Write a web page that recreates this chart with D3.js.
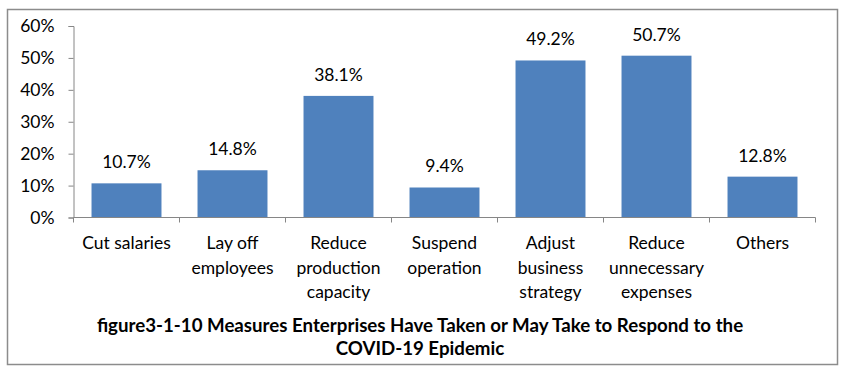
<!DOCTYPE html>
<html>
<head>
<meta charset="utf-8">
<script src="https://cdn.jsdelivr.net/npm/d3@7"></script>
<style>
  body { margin: 0; background: #fff; }
  text { font-family: Lato, "Open Sans", sans-serif; fill: #000; }
</style>
</head>
<body>
<svg id="chart" width="846" height="371"></svg>
<script>
// chart data
const categories = [
    ["Cut salaries"],
    ["Lay off", "employees"],
    ["Reduce", "production", "capacity"],
    ["Suspend", "operation"],
    ["Adjust", "business", "strategy"],
    ["Reduce", "unnecessary", "expenses"],
    ["Others"]
];
const values = [10.7, 14.8, 38.1, 9.4, 49.2, 50.7, 12.8];
const yTicks = [0, 10, 20, 30, 40, 50, 60];
const titleLines = [
    "figure3-1-10 Measures Enterprises Have Taken or May Take to Respond to the",
    "COVID-19 Epidemic"
];

const svg = d3.select("#chart");
const axisColor = "#868686";

// outer frame
svg.append("rect")
    .attr("x", 7.5).attr("y", 9.5)
    .attr("width", 830).attr("height", 355)
    .attr("fill", "none")
    .attr("stroke", "#8c8c8c")
    .attr("stroke-width", 1.5);

const plotLeft = 73.5, plotRight = 815.5, plotTop = 26, plotBottom = 217.5;
const keys = categories.map((d, i) => i);

const x = d3.scaleBand()
    .domain(keys)
    .range([plotLeft, plotRight])
    .paddingInner(0.34)
    .paddingOuter(0.17);

const y = d3.scaleLinear()
    .domain([0, 60])
    .range([plotBottom, plotTop]);

// bars
svg.selectAll("rect.bar")
    .data(values)
    .enter()
    .append("rect")
    .attr("class", "bar")
    .attr("x", (d, i) => x(i))
    .attr("y", d => y(d))
    .attr("width", x.bandwidth())
    .attr("height", d => plotBottom - y(d))
    .attr("fill", "#4f81bd");

// value labels
svg.selectAll("text.val")
    .data(values)
    .enter()
    .append("text")
    .attr("class", "val")
    .attr("x", (d, i) => x(i) + x.bandwidth() / 2)
    .attr("y", d => y(d) - 15)
    .attr("text-anchor", "middle")
    .attr("font-size", "17.5px")
    .text(d => d.toFixed(1) + "%");

// y axis
const yAxis = svg.append("g")
    .attr("transform", `translate(${plotLeft},0)`)
    .call(d3.axisLeft(y).tickValues(yTicks).tickSize(5).tickPadding(14).tickFormat(d => d + "%"));
yAxis.selectAll("text").attr("font-size", "17.5px").attr("font-family", "Lato, sans-serif").attr("fill", "#000");
yAxis.select(".domain").attr("stroke", axisColor);
yAxis.selectAll(".tick line").attr("stroke", axisColor);

// x axis with ticks between categories
const xAxis = svg.append("g")
    .attr("transform", `translate(0,${plotBottom})`);
xAxis.append("line")
    .attr("x1", plotLeft).attr("x2", plotRight)
    .attr("stroke", axisColor);
const step = (plotRight - plotLeft) / categories.length;
xAxis.selectAll("line.tk")
    .data(d3.range(categories.length + 1))
    .enter()
    .append("line")
    .attr("class", "tk")
    .attr("x1", i => plotLeft + i * step)
    .attr("x2", i => plotLeft + i * step)
    .attr("y1", 0).attr("y2", 5)
    .attr("stroke", axisColor);

// category labels
const catLabels = svg.selectAll("text.cat")
    .data(categories)
    .enter()
    .append("text")
    .attr("class", "cat")
    .attr("text-anchor", "middle")
    .attr("font-size", "17.5px");
catLabels.selectAll("tspan")
    .data((d, i) => d.map(s => ({ s, i })))
    .enter()
    .append("tspan")
    .attr("x", d => x(d.i) + x.bandwidth() / 2)
    .attr("y", (d, j) => 249 + j * 24.5)
    .text(d => d.s);

// title
svg.selectAll("text.title")
    .data(titleLines)
    .enter()
    .append("text")
    .attr("class", "title")
    .attr("x", 420)
    .attr("y", (d, i) => 332 + i * 23)
    .attr("text-anchor", "middle")
    .attr("font-size", "18.7px")
    .attr("font-weight", "bold")
    .text(d => d);
</script>
</body>
</html>
